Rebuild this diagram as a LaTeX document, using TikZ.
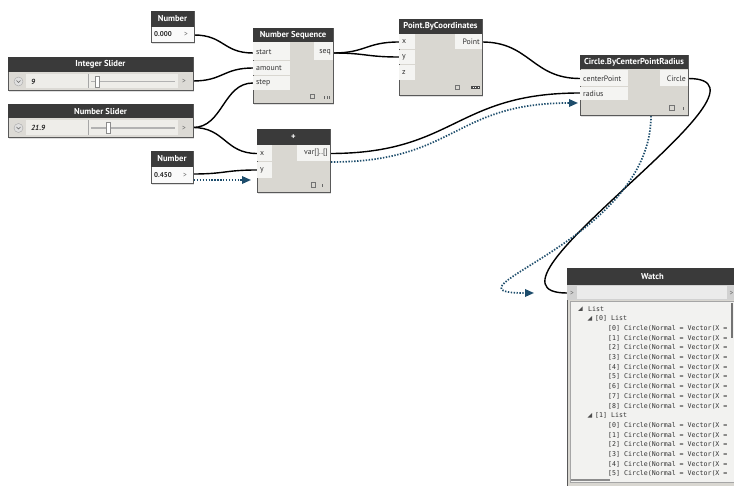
\documentclass[tikz,border=0pt]{standalone}
\usepackage{fontspec}
\setmainfont{PT Sans}
\newfontfamily\wmono{DejaVu Sans Mono}
\usetikzlibrary{arrows.meta,shadows,fit}
\definecolor{hdr}{HTML}{3A3A3A}
\definecolor{bodyc}{HTML}{D9D7D1}
\definecolor{cellc}{HTML}{F4F4F2}
\definecolor{wblue}{HTML}{1D4D6C}
\definecolor{fieldc}{HTML}{EEEDE9}
\definecolor{listc}{HTML}{F2F2F0}
\definecolor{numc}{HTML}{FAFAFA}
\definecolor{slc}{HTML}{DCDAD5}

\tikzset{
  boxst/.style={draw=black!65, line width=0.5pt, inner sep=0pt,
    drop shadow={opacity=0.25, shadow xshift=1.2pt, shadow yshift=-2.2pt}},
  titlest/.style={text=white, font=\fontsize{8.6}{9}\selectfont\bfseries, inner sep=0pt},
  portl/.style={text=black!80, font=\fontsize{7.8}{9}\selectfont, inner sep=0pt},
  vall/.style={text=black!85, font=\fontsize{7}{8}\selectfont\bfseries, inner sep=0pt, anchor=west},
  arrl/.style={text=black!60, font=\fontsize{7.5}{8}\selectfont, inner sep=0pt},
  wire/.style={draw=black, line width=1.4pt},
  dwire/.style={draw=wblue, line width=1.7pt, dash pattern=on 1.4pt off 1.5pt,
    -{Triangle[length=9pt,width=7.5pt,fill=wblue]}},
  footst/.style={draw=black!55, line width=0.5pt},
  wl/.style={anchor=west, inner sep=0pt, text=black!80, font=\wmono\fontsize{6.6}{7}\selectfont},
}

\newcommand\dynbox[8]{%
  \node[boxst, fill=#8, fit={(#2,#3) (#4,#5)}] (#1) {};
  \fill[hdr] (#2,#3) rectangle (#4,#6);
  \node[titlest] (#1-t) at ({(#2+#4)/2},{(#3+#6)/2}) {#7};
}
\newcommand\pcell[4]{\fill[cellc] (#1,#2) rectangle (#3,#4);}
\newcommand\dfoot[3]{%
  \draw[footst] (#1,#2) rectangle ++(4.5,4.5);
  \fill[black!60] (#3,{#2+2}) rectangle ++(1.2,3);
}

\begin{document}
\begin{tikzpicture}[x=1pt,y=-1pt]
\fill[white] (0,0) rectangle (734,486);
\useasboundingbox (0,0) rectangle (734,486);

% port coordinates
\coordinate (num1-out) at (194,35);
\coordinate (isl-out) at (193,81);
\coordinate (nsl-out) at (193,127.5);
\coordinate (num2-out) at (193,174);
\coordinate (num2-d) at (194,180);
\coordinate (ns-start) at (253,53);
\coordinate (ns-amount) at (253,68);
\coordinate (ns-step) at (253,83);
\coordinate (ns-seq) at (333,53);
\coordinate (pb-x) at (399,42);
\coordinate (pb-y) at (399,57);
\coordinate (pb-out) at (482,42);
\coordinate (pl-x) at (257,153.5);
\coordinate (pl-y) at (257,170);
\coordinate (pl-d) at (251,180);
\coordinate (pl-out) at (330,153.5);
\coordinate (pl-dout) at (331,162);
\coordinate (ci-cp) at (580,78.5);
\coordinate (ci-r) at (580,93);
\coordinate (ci-d) at (578,103);
\coordinate (ci-out) at (688,78.5);
\coordinate (ci-bot) at (651,116);
\coordinate (wa-in) at (567,293);
\coordinate (wa-d) at (534,293);

% wires
\draw[wire] (num1-out) .. controls +(30,0) and +(-30,0) .. (ns-start);
\draw[wire] (isl-out) .. controls +(30,0) and +(-30,0) .. (ns-amount);
\draw[wire] (nsl-out) .. controls +(30,0) and +(-30,0) .. (ns-step);
\draw[wire] (nsl-out) .. controls +(32,0) and +(-32,0) .. (pl-x);
\draw[wire] (num2-out) .. controls +(32,0) and +(-32,0) .. (pl-y);
\draw[dwire] (num2-d) -- (pl-d);
\draw[wire] (ns-seq) .. controls +(33,0) and +(-33,0) .. (pb-x);
\draw[wire] (ns-seq) .. controls +(33,0) and +(-33,0) .. (pb-y);
\draw[wire] (pb-out) .. controls +(48,0) and +(-48,0) .. (ci-cp);
\draw[wire] (pl-out) .. controls +(125,0) and +(-125,0) .. (ci-r);
\draw[dwire] (pl-dout) .. controls +(125,0) and +(-125,0) .. (ci-d);
\draw[wire] (ci-out) .. controls +(110,0) and +(-110,0) .. (wa-in);
\draw[dwire] (ci-bot) .. controls +(0,125) and +(-105,0) .. (wa-d);

% Number (top)
\dynbox{num1}{151}{11}{194}{42}{27}{Number}{numc}
\node[vall, font=\fontsize{7}{8}\selectfont\bfseries] (num1-v) at (154,34.5) {0.000};
\node[arrl] (num1-a) at (186,34.5) {>};

% Integer Slider
\dynbox{isl}{8}{57}{193}{90}{72}{Integer Slider}{slc}
\fill[fieldc] (26,74) rectangle (178,88.5);
\draw[black!35, line width=0.4pt] (88,74) -- (88,88.5);
\draw[black!30, line width=1.2pt] (91,81.5) -- (175,81.5);
\draw[black!45, fill=white, line width=0.4pt] (95.5,76) rectangle (99.5,87);
\node[circle, draw=black!35, fill=black!12, minimum size=9pt, inner sep=0pt] (isl-b) at (18.5,81.5) {};
\draw[black!60, line width=0.6pt] (16.5,80.5) -- (18.5,82.5) -- (20.5,80.5);
\node[vall, font=\fontsize{7.4}{8}\selectfont\bfseries\itshape] (isl-v) at (31,81.5) {9};
\node[arrl] (isl-a) at (184,81.5) {>};

% Number Slider
\dynbox{nsl}{8}{104}{193}{137}{118}{Number Slider}{slc}
\fill[fieldc] (26,120) rectangle (178,135);
\draw[black!35, line width=0.4pt] (88,120) -- (88,135);
\draw[black!30, line width=1.2pt] (91,128) -- (175,128);
\draw[black!45, fill=white, line width=0.4pt] (106,122.5) rectangle (110,133.5);
\node[circle, draw=black!35, fill=black!12, minimum size=9pt, inner sep=0pt] (nsl-b) at (18.5,128) {};
\draw[black!60, line width=0.6pt] (16.5,127) -- (18.5,129) -- (20.5,127);
\node[vall, font=\fontsize{7.4}{8}\selectfont\bfseries\itshape] (nsl-v) at (31,128) {21.9};
\node[arrl] (nsl-a) at (184,128) {>};

% Number (bottom)
\dynbox{num2}{151}{151}{193}{183}{167}{Number}{numc}
\node[vall, font=\fontsize{7}{8}\selectfont\bfseries] (num2-v) at (154,175) {0.450};
\node[arrl] (num2-a) at (185,175) {>};

% Number Sequence
\dynbox{ns}{253}{28}{333}{103}{42}{Number Sequence}{bodyc}
\pcell{253.3}{42.5}{290}{60.5}
\pcell{253.3}{61.2}{290}{75.5}
\pcell{253.3}{76.2}{290}{90.5}
\pcell{314}{42.5}{332.7}{60.5}
\node[portl, anchor=west] (ns-l1) at (256,52.5) {start};
\node[portl, anchor=west] (ns-l2) at (256,68) {amount};
\node[portl, anchor=west] (ns-l3) at (256,83) {step};
\node[portl, anchor=east] (ns-l4) at (331,52.5) {seq};
\dfoot{310}{94}{324}
\fill[black!60] (326.5,96) rectangle ++(1.2,3);
\fill[black!60] (329,96) rectangle ++(1.2,3);

% Point.ByCoordinates
\dynbox{pb}{399}{19}{482}{95}{34}{Point.ByCoordinates}{bodyc}
\pcell{399.3}{34.5}{415}{49.5}
\pcell{399.3}{50.2}{415}{64.5}
\pcell{399.3}{65.2}{415}{80}
\pcell{455}{34.5}{481.7}{49.5}
\node[portl, anchor=west] (pb-l1) at (402,42) {x};
\node[portl, anchor=west] (pb-l2) at (402,57) {y};
\node[portl, anchor=west] (pb-l3) at (402,72.5) {z};
\node[portl, anchor=east] (pb-l4) at (480,42) {Point};
\draw[footst] (455,85) rectangle ++(4.5,4.5);
\fill[black!70] (471,86) rectangle (480,89);
\fill[white] (473,87) rectangle ++(0.8,1);
\fill[white] (475.3,87) rectangle ++(0.8,1);
\fill[white] (477.6,87) rectangle ++(0.8,1);

% + node
\dynbox{pl}{257}{129}{330}{192}{145}{+}{bodyc}
\pcell{257.3}{145.5}{272}{161}
\pcell{257.3}{161.7}{272}{178}
\pcell{297}{145.5}{329.7}{161}
\node[portl, anchor=west] (pl-l1) at (260,153.5) {x};
\node[portl, anchor=west] (pl-l2) at (260,170) {y};
\node[portl, anchor=east] (pl-l3) at (328,153) {var[]..[]};
\dfoot{311}{182.5}{321.5}

% Circle.ByCenterPointRadius
\dynbox{ci}{580}{55}{688}{115}{69.5}{Circle.ByCenterPointRadius}{bodyc}
\pcell{580.3}{70}{628}{86.3}
\pcell{580.3}{87}{628}{100}
\pcell{660}{70}{687.7}{86.3}
\node[portl, anchor=west] (ci-l1) at (583,78.5) {centerPoint};
\node[portl, anchor=west] (ci-l2) at (583,93.5) {radius};
\node[portl, anchor=east] (ci-l3) at (686,78.5) {Circle};
\dfoot{669.5}{105.5}{683}

% Watch
\dynbox{wa}{567}{268}{738}{486}{285}{Watch}{bodyc}
\fill[black!18] (567.3,285) rectangle (737,300);
\fill[black!8] (577,286) rectangle (727,299);
\node[arrl] (wa-a1) at (572,293) {>};
\node[arrl] (wa-a2) at (731.5,293) {>};
\fill[listc] (570,301) rectangle (736,482);
\draw[black!35, line width=0.4pt] (570,301) rectangle (736,482);
\fill[black!55] (730.5,303) rectangle (733,338);
\fill[black!45] (571,478.5) rectangle (610,481);
\begin{scope}
\clip (570,301) rectangle (729,475.5);
\fill[black!70] (582.5,306.5) -- (582.5,311) -- (578,311) -- cycle;
\node[wl] (w0) at (588,309) {List};
\fill[black!70] (592,316.2) -- (592,320.7) -- (587.5,320.7) -- cycle;
\node[wl] (w1) at (595,318.7) {[0] List};
\foreach \i in {0,...,8}
  \node[wl] (wa\i) at (608,{328.4+9.7*\i}) {[\i] Circle(Normal = Vector(X =};
\fill[black!70] (592,413.2) -- (592,417.7) -- (587.5,417.7) -- cycle;
\node[wl] (w2) at (595,415.7) {[1] List};
\foreach \i in {0,...,5}
  \node[wl] (wb\i) at (608,{425.4+9.7*\i}) {[\i] Circle(Normal = Vector(X =};
\end{scope}
\end{tikzpicture}
\end{document}
